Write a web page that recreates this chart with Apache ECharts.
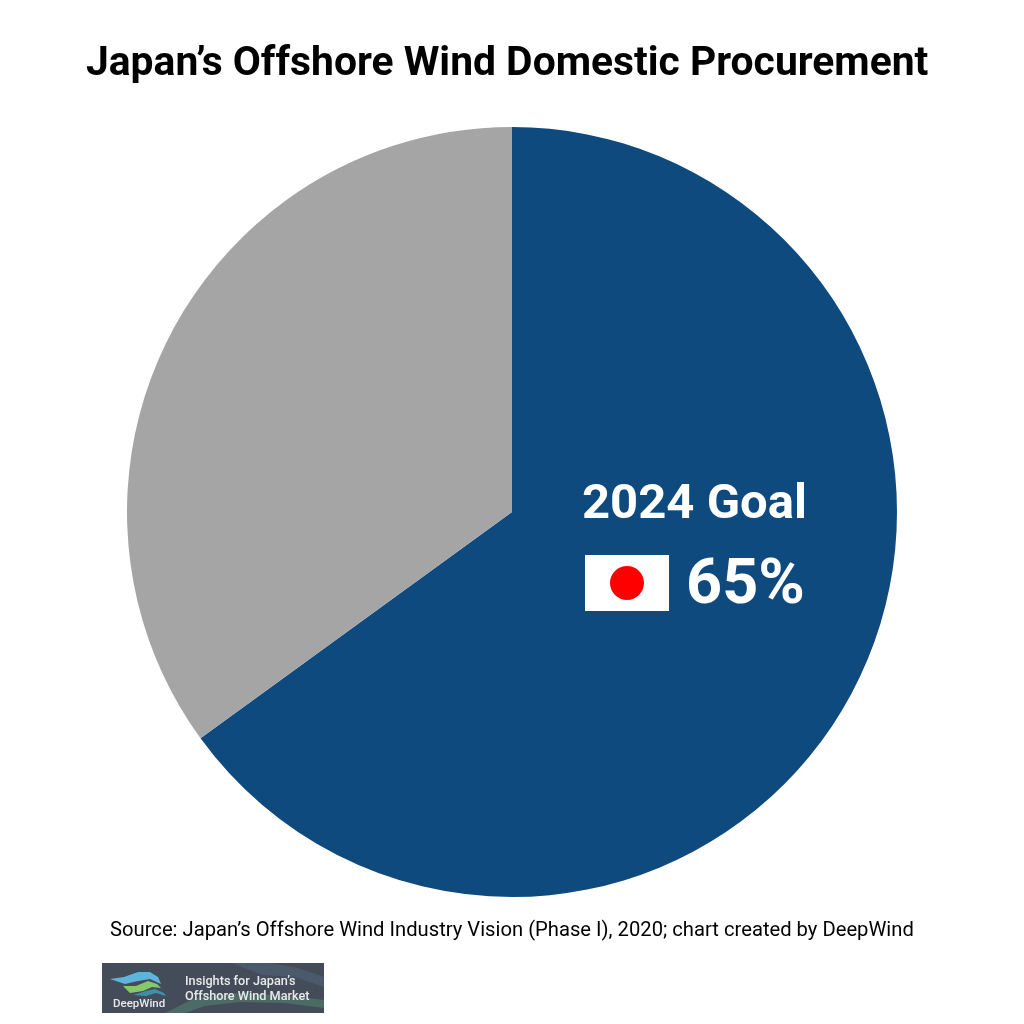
<!DOCTYPE html>
<html><head><meta charset="utf-8">
<style>html,body{margin:0;padding:0;background:#fff}#c{width:1024px;height:1024px}</style>
<script src="https://cdn.jsdelivr.net/npm/echarts@6/dist/echarts.min.js"></script>
</head><body><div id="c"></div>
<script>
const categories = ['Domestic procurement', 'Other'];
const values = [65, 35];
const colors = ['#0F4A7F', '#A5A5A5'];
const titleText = 'Japan’s Offshore Wind Domestic Procurement';
const sourceText = 'Source: Japan’s Offshore Wind Industry Vision (Phase I), 2020; chart created by DeepWind';
const chart = echarts.init(document.getElementById('c'), null, {renderer:'canvas'});
const Z = 100;
chart.setOption({
  animation:false,
  backgroundColor:'#fff',
  title:{text:titleText,left:86,top:44,padding:0,textStyle:{fontFamily:'Roboto',fontWeight:700,fontSize:40.8,color:'#000'}},
  series:[{type:'pie',center:[512,512],radius:[0,385],startAngle:90,clockwise:true,
    label:{show:false},labelLine:{show:false},silent:true,
    data:categories.map((n,i)=>({name:n,value:values[i],itemStyle:{color:colors[i]}}))}],
  graphic:[
    {type:'text',z:Z,x:582,y:481,style:{text:'2024 Goal',font:'700 49px Roboto',fill:'#fff'}},
    {type:'rect',z:Z,shape:{x:585,y:555,width:84,height:56},style:{fill:'#fff'}},
    {type:'circle',z:Z+1,shape:{cx:627,cy:583,r:17},style:{fill:'#FF0000'}},
    {type:'text',z:Z,x:686,y:556,style:{text:'65%',font:'700 63px Roboto',fill:'#fff'}},
    {type:'text',z:Z,x:110,y:921,style:{text:sourceText,font:'400 20.22px Roboto',fill:'#000'}},
    {type:'rect',z:Z,shape:{x:102,y:963,width:222,height:50},style:{fill:'#454C59'}},
    {type:'polygon',z:Z+1,shape:{points:[[165,1013],[195,998],[240,993],[290,996],[324,1000],[324,1008],[285,1003],[240,1002],[205,1006],[185,1013]]},style:{fill:'#4C6A66'}},
    {type:'polygon',z:Z+1,shape:{points:[[232,963],[262,975],[295,977],[324,987],[324,977],[298,968],[270,963]]},style:{fill:'#4A5A6C'}},
    {type:'polygon',z:Z+2,shape:{points:[[110,979],[124,977],[138,972],[150,972],[158,977],[161,984],[150,979],[138,981],[125,984]]},style:{fill:'#5FB4DE'}},
    {type:'polygon',z:Z+2,shape:{points:[[123,986],[136,986],[148,981],[157,984],[161,988],[152,987],[143,991],[130,993]]},style:{fill:'#86C96A'}},
    {type:'polygon',z:Z+2,shape:{points:[[133,995],[146,991],[155,989],[164,993],[166,996],[156,993],[146,996]]},style:{fill:'#3E8FA8'}},
    {type:'text',z:Z+3,x:113,y:998,style:{text:'DeepWind',font:'500 11.5px Roboto',fill:'#E8EAEC'}},
    {type:'text',z:Z+3,x:185,y:975,style:{text:'Insights for Japan’s',font:'500 12.7px Roboto',fill:'#E8EAEC'}},
    {type:'text',z:Z+3,x:185,y:990,style:{text:'Offshore Wind Market',font:'500 12.7px Roboto',fill:'#E8EAEC'}}
  ]
});
</script></body></html>
